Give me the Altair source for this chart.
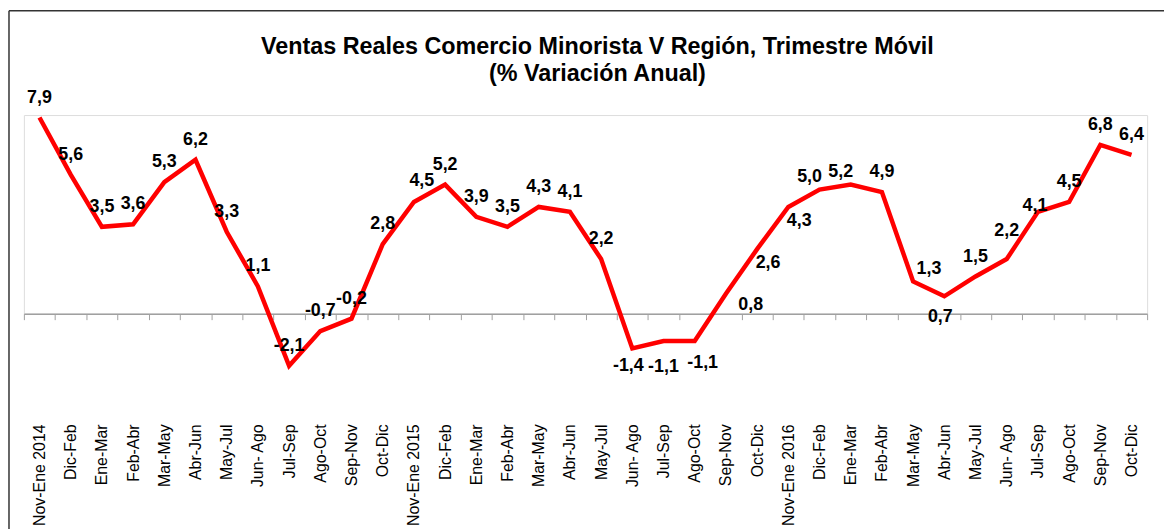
import json
import altair as alt
import pandas as pd

# ---------------- data ----------------
periods = [
    "Nov-Ene 2014", "Dic-Feb", "Ene-Mar", "Feb-Abr", "Mar-May", "Abr-Jun",
    "May-Jul", "Jun- Ago", "Jul-Sep", "Ago-Oct", "Sep-Nov", "Oct-Dic",
    "Nov-Ene 2015", "Dic-Feb", "Ene-Mar", "Feb-Abr", "Mar-May", "Abr-Jun",
    "May-Jul", "Jun- Ago", "Jul-Sep", "Ago-Oct", "Sep-Nov", "Oct-Dic",
    "Nov-Ene 2016", "Dic-Feb", "Ene-Mar", "Feb-Abr", "Mar-May", "Abr-Jun",
    "May-Jul", "Jun- Ago", "Jul-Sep", "Ago-Oct", "Sep-Nov", "Oct-Dic",
]
values_2014 = [7.9, 5.6, 3.5, 3.6, 5.3, 6.2, 3.3, 1.1, -2.1, -0.7, -0.2, 2.8]
values_2015 = [4.5, 5.2, 3.9, 3.5, 4.3, 4.1, 2.2, -1.4, -1.1, -1.1, 0.8, 2.6]
values_2016 = [4.3, 5.0, 5.2, 4.9, 1.3, 0.7, 1.5, 2.2, 4.1, 4.5, 6.8, 6.4]
values = values_2014 + values_2015 + values_2016

title_lines = ["Ventas Reales Comercio Minorista V Región, Trimestre Móvil",
               "(% Variación Anual)"]

# ---------------- style: data-label placement ----------------
label_placement = (
    ["above"] * 12
    + ["above-r"] + ["above"] * 6 + ["below-l", "below-low", "below-r"]
    + ["right", "below-right"]
    + ["below-right", "above-left", "above-left", "above", "above-right", "below",
       "above", "above-high", "on", "above", "above", "above"]
)
placement_offsets = {
    "above": (0, -20),
    "above-r": (8, -21),
    "above-high": (0, -28),
    "below": (-4, 21),
    "below-l": (-4, 18),
    "below-low": (0, 26),
    "below-r": (8, 22),
    "right": (25, 11),
    "below-right": (11, 14),
    "above-left": (-10, -13),
    "above-right": (16, -12),
    "on": (-3, -6),
}

FONT = "Liberation Sans"

df = pd.DataFrame({
    "idx": list(range(len(values))),
    "value": values,
    "label": [f"{v:.1f}".replace(".", ",") for v in values],
    "placement": label_placement,
})

W, H = 1131, 200
y_scale = alt.Scale(domain=[0, 8], nice=False, zero=False)
label_expr = json.dumps(periods) + "[datum.value]"

x_enc = alt.X(
    "idx:O",
    sort=None,
    scale=alt.Scale(paddingInner=0, paddingOuter=0, round=False),
    axis=alt.Axis(
        title=None,
        labelExpr=label_expr,
        labelAngle=-90,
        labelFont=FONT,
        labelFontSize=16,
        labelColor="black",
        labelPadding=105,
        tickBand="extent",
        tickSize=6,
        tickColor="#A0A0A0",
        tickWidth=1,
        domainColor="#A0A0A0",
        domainWidth=1.5,
        grid=False,
    ),
)
y_enc = alt.Y("value:Q", scale=y_scale, axis=None)

line = alt.Chart(df).mark_line(color="#FF0000", strokeWidth=4.5, clip=False).encode(
    x=x_enc, y=y_enc
)

layers = [line]
for name, (ddx, ddy) in placement_offsets.items():
    layers.append(
        alt.Chart(df)
        .transform_filter(alt.datum.placement == name)
        .mark_text(font=FONT, fontSize=18, fontWeight="bold", color="black",
                   dx=ddx, dy=ddy, baseline="middle", align="center")
        .encode(x=x_enc, y=y_enc, text="label:N")
    )

one = pd.DataFrame({"k": [0]})
frame_top = alt.Chart(one).mark_rule(color="#333333", strokeWidth=1.5).encode(
    x=alt.value(-15), x2=alt.value(W + 20), y=alt.value(-105)
)
frame_left = alt.Chart(one).mark_rule(color="#333333", strokeWidth=1.5).encode(
    x=alt.value(-15), y=alt.value(-105), y2=alt.value(H + 220)
)
title_marks = [
    alt.Chart(one).mark_text(font=FONT, fontSize=23.5, fontWeight="bold", color="black",
                             align="center", baseline="middle").encode(
        x=alt.value(W / 2 + 12), y=alt.value(-68 + 27 * i), text=alt.value(t)
    )
    for i, t in enumerate(title_lines)
]
layers += [frame_top, frame_left] + title_marks

chart = (
    alt.layer(*layers)
    .properties(
        width=W,
        height=H,
        autosize=alt.AutoSizeParams(type="none"),
        padding={"left": 16, "top": 106, "right": 17, "bottom": 215},
    )
    .configure_view(stroke=None)
    .configure(background="white")
)

chart.save("out.html", embed_options={"renderer": "svg", "actions": False})
